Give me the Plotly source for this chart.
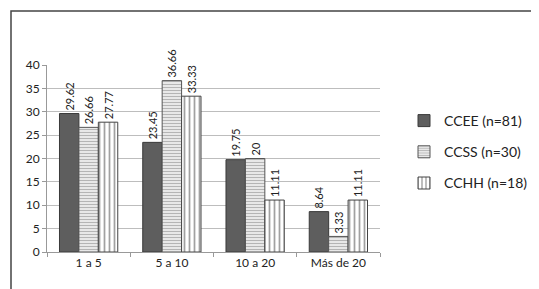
import plotly.graph_objects as go

categories = ["1 a 5", "5 a 10", "10 a 20", "Más de 20"]
ccee = [29.62, 23.45, 19.75, 8.64]
ccss = [26.66, 36.66, 20, 3.33]
cchh = [27.77, 33.33, 11.11, 11.11]
series_names = ["CCEE (n=81)", "CCSS (n=30)", "CCHH (n=18)"]
y_ticks = [0, 5, 10, 15, 20, 25, 30, 35, 40]

W, H = 539, 289
ml, mr, mt, mb = 39, 167, 57, 45
pw = W - ml - mr
ph = H - mt - mb

def fmt(v):
    s = ("%.2f" % v).rstrip("0").rstrip(".")
    return s

fig = go.Figure()
fig.add_trace(go.Bar(
    name=series_names[0], x=categories, y=ccee, legendgroup="a",
    marker=dict(color="#5e5e5e", line=dict(color="#3a3a3a", width=1)),
    text=[fmt(v) for v in ccee],
))
fig.add_trace(go.Bar(
    name=series_names[1], x=categories, y=ccss, legendgroup="b",
    marker=dict(color="#f2f2f2", line=dict(color="#555555", width=1),
                pattern=dict(shape="-", fgcolor="#777777", bgcolor="#f2f2f2", size=3, solidity=0.45)),
    text=[fmt(v) for v in ccss],
))
fig.add_trace(go.Bar(
    name=series_names[2], x=categories, y=cchh, legendgroup="c",
    marker=dict(color="#ffffff", line=dict(color="#444444", width=1),
                pattern=dict(shape="|", fgcolor="#444444", bgcolor="#ffffff", size=5, solidity=0.35)),
    text=[fmt(v) for v in cchh],
))
fig.update_traces(textposition="outside", textangle=-90, cliponaxis=False,
                  constraintext="none",
                  textfont=dict(family="Lato", size=11, color="#222222"))

fig.update_layout(
    width=W, height=H,
    margin=dict(l=ml, r=mr, t=mt, b=mb, pad=0, autoexpand=False),
    paper_bgcolor="white", plot_bgcolor="white",
    barmode="group", bargap=0.3, bargroupgap=0,
    font=dict(family="Lato", size=12, color="#222222"),
    showlegend=True,
    legend=dict(x=(396 - ml) / pw, y=(244 - 97) / ph, xanchor="left", yanchor="top",
                font=dict(family="Lato", size=14, color="#222222"),
                tracegroupgap=10, traceorder="grouped",
                bgcolor="rgba(0,0,0,0)", itemwidth=30),
    xaxis=dict(showgrid=False, showline=True, linecolor="#999999", linewidth=1,
               ticks="outside", tickson="boundaries", ticklen=4, tickcolor="#999999",
               tickfont=dict(size=12, color="#222222")),
    yaxis=dict(range=[0, 40], tickvals=y_ticks, showgrid=True, gridcolor="#bdbdbd", gridwidth=1,
               showline=True, linecolor="#999999", linewidth=1, ticks="outside", ticklen=4,
               tickcolor="#999999", zeroline=False,
               tickfont=dict(size=12, color="#222222")),
    shapes=[dict(type="rect", xref="paper", yref="paper",
                 x0=(3 - ml) / pw, x1=(535 - ml) / pw,
                 y0=(H - mb - 286) / ph, y1=(H - mb - 3) / ph,
                 line=dict(color="#444444", width=1.5), fillcolor="rgba(0,0,0,0)", layer="above")],
)

fig.write_html("out.html")
